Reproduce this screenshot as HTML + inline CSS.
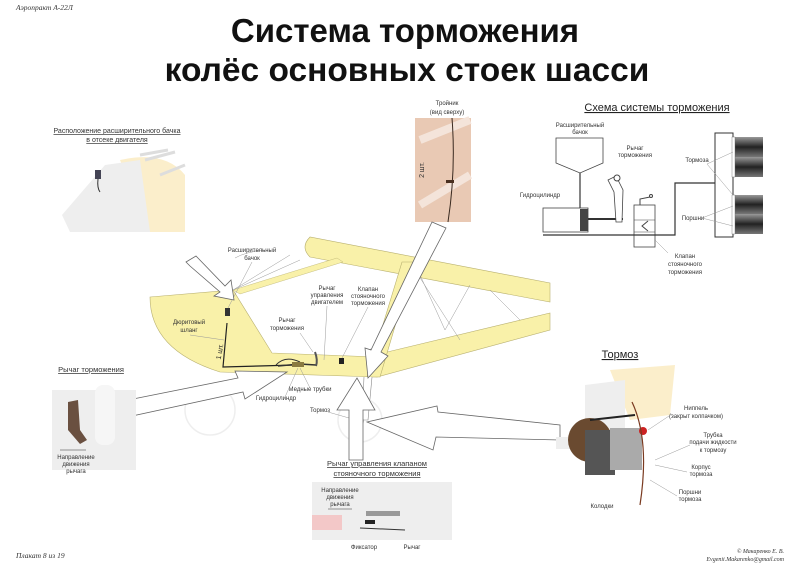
<!DOCTYPE html>
<html><head><meta charset="utf-8"><style>
body{margin:0;background:#fff;}
svg{display:block;font-family:"Liberation Sans",sans-serif;}
.s{font-size:6px;fill:#333;text-anchor:middle;}
.ar{fill:#fff;stroke:#666;stroke-width:0.8;}
.ln{stroke:#999;stroke-width:0.5;fill:none;}
</style></head><body>
<svg width="800" height="565" viewBox="0 0 800 565">
<defs>
<linearGradient id="dg" x1="0" y1="0" x2="0" y2="1"><stop offset="0" stop-color="#999"/><stop offset="0.5" stop-color="#222"/><stop offset="1" stop-color="#777"/></linearGradient>
</defs>
<text x="16" y="10" font-family="Liberation Serif" font-style="italic" font-size="7.5" fill="#333">Аэропракт А-22Л</text>
<text x="405" y="42" font-size="33" font-weight="bold" text-anchor="middle" fill="#111">Система торможения</text>
<text x="407" y="81" font-size="33.5" font-weight="bold" text-anchor="middle" fill="#111">колёс основных стоек шасси</text>

<!-- engine inset -->
<text x="117" y="133" font-size="7" text-anchor="middle" fill="#333" text-decoration="underline">Расположение расширительного бачка</text>
<text x="117" y="142" font-size="7" text-anchor="middle" fill="#333" text-decoration="underline">в отсеке двигателя</text>
<path d="M120 160 Q165 150 185 175 L185 232 L150 232 Z" fill="#fbeecb"/>
<path d="M62 215 L105 165 L140 160 L150 232 L70 232 Z" fill="#eee"/>
<path d="M140 155 L168 150 M145 160 L175 152 M160 175 L185 165" stroke="#ddd" stroke-width="3"/>
<rect x="95" y="170" width="6" height="9" fill="#445"/>
<path d="M98 179 Q97 188 100 192" stroke="#333" fill="none"/>

<!-- tee -->
<text x="447" y="105" class="s" font-size="6.5">Тройник</text>
<text x="447" y="114" class="s" font-size="6.5">(вид сверху)</text>
<rect x="415" y="118" width="56" height="104" fill="#e9c9b4"/>
<path d="M420 140 L470 120 M420 205 L470 175" stroke="#f4e4da" stroke-width="8"/>
<path d="M452 118 Q456 170 448 222" stroke="#3a2a20" fill="none"/>
<rect x="446" y="180" width="8" height="3" fill="#4a3020"/>
<text x="424" y="170" font-size="7" fill="#333" transform="rotate(-90 424 170)" text-anchor="middle">2 шт.</text>

<!-- schema -->
<text x="657" y="111" font-size="11" text-anchor="middle" fill="#222" text-decoration="underline">Схема системы торможения</text>
<text x="580" y="127" class="s">Расширительный</text><text x="580" y="134" class="s">бачок</text>
<path d="M556 138 L603 138 L603 163 L580 173 L556 163 Z" fill="#fff" stroke="#444" stroke-width="0.8"/>
<line x1="580" y1="173" x2="580" y2="208" stroke="#333" stroke-width="1.2"/>
<rect x="543" y="208" width="45" height="24" fill="#fff" stroke="#444" stroke-width="0.8"/>
<rect x="580" y="209" width="8" height="22" fill="#444"/>
<line x1="588" y1="219" x2="623" y2="219" stroke="#333" stroke-width="2"/>
<path d="M608 180 L616 176 L623 190 L622 222 L616 222 L614 192 Z" fill="#fff" stroke="#444" stroke-width="0.8"/>
<circle cx="617" cy="178" r="3" fill="#fff" stroke="#444"/>
<text x="635" y="150" class="s">Рычаг</text><text x="635" y="157" class="s">торможения</text>
<text x="540" y="197" class="s">Гидроцилиндр</text>
<rect x="634" y="205" width="21" height="42" fill="#fff" stroke="#444" stroke-width="0.8"/>
<line x1="634" y1="220" x2="655" y2="220" stroke="#444" stroke-width="0.6"/><line x1="634" y1="232" x2="655" y2="232" stroke="#444" stroke-width="0.6"/>
<path d="M648 221 L642 226 L648 231" stroke="#444" fill="none"/>
<path d="M640 205 L640 199 L650 197" stroke="#444" fill="none"/><circle cx="651" cy="196" r="1.5" fill="#fff" stroke="#444"/>
<path d="M543 235 L675 235 L675 183 L715 183" stroke="#333" stroke-width="1.2" fill="none"/>
<rect x="715" y="133" width="18" height="104" fill="#fff" stroke="#333" stroke-width="1"/>
<rect x="733" y="137" width="30" height="20" fill="url(#dg)"/><rect x="733" y="157" width="30" height="20" fill="url(#dg)"/>
<rect x="733" y="195" width="30" height="19" fill="url(#dg)"/><rect x="733" y="214" width="30" height="20" fill="url(#dg)"/>
<rect x="732" y="137" width="3" height="40" fill="#fff" stroke="#666" stroke-width="0.4"/><rect x="732" y="195" width="3" height="39" fill="#fff" stroke="#666" stroke-width="0.4"/>
<text x="697" y="162" class="s">Тормоза</text>
<path d="M707 164 L733 152 M707 164 L733 195" class="ln"/>
<text x="693" y="220" class="s">Поршни</text>
<path d="M702 218 L733 206 M702 218 L733 226" class="ln"/>
<text x="685" y="258" class="s">Клапан</text><text x="685" y="266" class="s">стояночного</text><text x="685" y="274" class="s">торможения</text>
<path d="M668 253 L655 240" class="ln"/>

<!-- airplane -->
<path d="M235 258 Q245 252 265 250" class="ln"/>
<path d="M150 297 L233 290 L272 353 L377 357 L377 377 L220 372 Q150 350 150 297 Z" fill="#f9f1a9" stroke="#b8b070" stroke-width="0.6"/>
<path d="M383 353 L550 313 L550 330 L377 377 Z" fill="#f9f1a9" stroke="#b8b070" stroke-width="0.6"/>
<path d="M310 237 Q300 247 310 257 L550 302 L550 283 Z" fill="#f9f1a9" stroke="#b8b070" stroke-width="0.6"/>
<path d="M233 290 L337 258 L343 262 L240 294 Z" fill="#f9f1a9" stroke="#b8b070" stroke-width="0.4"/>
<path d="M402 262 L414 262 L380 377 L367 377 Z" fill="#f9f1a9" stroke="#b8b070" stroke-width="0.6"/>
<path d="M420 275 L445 330 M470 285 L445 330 M490 290 L520 320 M415 270 L460 340" class="ln"/>
<path d="M233 290 L290 255 M233 290 L300 260" class="ln"/>
<path d="M364 377 L362 420 L368 420 L372 377" fill="#fff" stroke="#888" stroke-width="0.6"/>
<path d="M227 323 L223 367 L296 365" stroke="#222" stroke-width="1.2" fill="none"/>
<rect x="225" y="308" width="5" height="8" fill="#333"/>
<path d="M278 366 L300 364 L316 365" stroke="#333" stroke-width="1.5" fill="none"/>
<path d="M276 365 Q285 355 300 362" stroke="#333" fill="none"/>
<rect x="292" y="362" width="12" height="5" fill="#8a7a40"/>
<path d="M315 352 Q318 360 316 366" stroke="#555" stroke-width="2" fill="none"/>
<rect x="339" y="358" width="5" height="6" fill="#222"/>
<circle cx="210" cy="410" r="25" fill="none" stroke="#eee" stroke-width="1.5"/>
<circle cx="360" cy="420" r="22" fill="none" stroke="#eee" stroke-width="1.5"/>
<circle cx="359" cy="421" r="4" fill="none" stroke="#222" stroke-width="1.2"/>
<text x="252" y="252" class="s">Расширительный</text><text x="252" y="260" class="s">бачок</text>
<text x="189" y="324" class="s">Дюритовый</text><text x="189" y="332" class="s">шланг</text>
<text x="287" y="322" class="s">Рычаг</text><text x="287" y="330" class="s">торможения</text>
<text x="327" y="290" class="s">Рычаг</text><text x="327" y="297" class="s">управления</text><text x="327" y="304" class="s">двигателем</text>
<text x="368" y="291" class="s">Клапан</text><text x="368" y="298" class="s">стояночного</text><text x="368" y="305" class="s">торможения</text>
<text x="310" y="391" class="s">Медные трубки</text>
<text x="276" y="400" class="s">Гидроцилиндр</text>
<text x="320" y="412" class="s">Тормоз</text>
<text x="222" y="352" font-size="7" fill="#222" transform="rotate(-80 222 352)" text-anchor="middle">1 шт.</text>
<text x="373" y="356" font-size="7" fill="#222" transform="rotate(-80 373 356)" text-anchor="middle">2 шт.</text>
<path d="M252 262 L228 308 M190 335 L224 340 M300 333 L313 352 M327 306 L324 360 M368 307 L342 358 M310 388 L300 368 M285 397 L298 368 M328 412 L356 420" class="ln"/>

<!-- arrows -->
<polygon class="ar" points="186,262 196,256 225,286 231,280 234,300 214,296 220,292 190,266"/>
<polygon class="ar" points="432,222 446,228 381,352 388,356 368,378 365,348 371,350"/>
<polygon class="ar" points="128,400 238,378 235,371 287,372 245,399 243,392 132,416"/>
<polygon class="ar" points="349,460 349,410 337,410 357,378 375,410 363,410 363,460"/>
<polygon class="ar" points="367,422 437,406 438,412 560,425 560,440 436,437 433,450"/>

<!-- brake lever inset -->
<text x="91" y="372" font-size="7.5" text-anchor="middle" fill="#333" text-decoration="underline">Рычаг торможения</text>
<rect x="52" y="390" width="84" height="80" fill="#eee"/>
<rect x="95" y="385" width="20" height="60" rx="8" fill="#f6f6f6"/>
<path d="M68 402 L78 400 L80 430 L87 440 L80 444 L68 430 Z" fill="#6a5040"/>
<line x1="60" y1="450" x2="86" y2="450" stroke="#333" stroke-width="0.6"/>
<text x="76" y="459" class="s" font-size="5">Направление</text><text x="76" y="466" class="s" font-size="5">движения</text><text x="76" y="473" class="s" font-size="5">рычага</text>

<!-- parking inset -->
<text x="377" y="466" font-size="7.5" text-anchor="middle" fill="#333" text-decoration="underline">Рычаг управления клапаном</text>
<text x="377" y="476" font-size="7.5" text-anchor="middle" fill="#333" text-decoration="underline">стояночного торможения</text>
<rect x="312" y="482" width="140" height="58" fill="#eee"/>
<rect x="312" y="515" width="30" height="15" fill="#f3c8c8"/>
<rect x="366" y="511" width="34" height="5" fill="#999"/>
<rect x="365" y="520" width="10" height="4" fill="#222"/>
<path d="M360 528 L405 530" stroke="#333"/>
<text x="340" y="492" class="s" font-size="5">Направление</text><text x="340" y="499" class="s" font-size="5">движения</text><text x="340" y="506" class="s" font-size="5">рычага</text>
<line x1="328" y1="509" x2="352" y2="509" stroke="#333" stroke-width="0.6"/>
<text x="364" y="549" class="s">Фиксатор</text><text x="412" y="549" class="s">Рычаг</text>

<!-- brake inset -->
<text x="620" y="358" font-size="11" text-anchor="middle" fill="#222" text-decoration="underline">Тормоз</text>
<path d="M610 370 L675 365 L670 415 L630 420 Z" fill="#fbeecb"/>
<path d="M585 385 L625 380 L625 440 L585 440 Z" fill="#eee"/>
<rect x="556" y="437" width="60" height="12" fill="#eee"/>
<circle cx="590" cy="440" r="22" fill="#6a4a30"/>
<rect x="585" y="430" width="30" height="45" fill="#555"/>
<rect x="610" y="428" width="32" height="42" fill="#aaa"/>
<circle cx="643" cy="431" r="4" fill="#c22"/>
<path d="M632 402 Q650 440 640 505" stroke="#7a3a20" stroke-width="1.2" fill="none"/>
<path d="M590 420 L635 415" stroke="#222" stroke-width="2"/>
<text x="696" y="410" class="s">Ниппель</text><text x="696" y="418" class="s">(закрыт колпачком)</text>
<text x="713" y="437" class="s">Трубка</text><text x="713" y="444" class="s">подачи жидкости</text><text x="713" y="452" class="s">к тормозу</text>
<text x="701" y="469" class="s">Корпус</text><text x="701" y="476" class="s">тормоза</text>
<text x="690" y="494" class="s">Поршни</text><text x="690" y="501" class="s">тормоза</text>
<text x="602" y="508" class="s">Колодки</text>
<path d="M672 414 L648 430 M690 445 L655 460 M687 472 L655 465 M677 496 L650 480" class="ln"/>

<text x="16" y="558" font-family="Liberation Serif" font-style="italic" font-size="7.5" fill="#333">Плакат 8 из 19</text>
<text x="784" y="553" font-family="Liberation Serif" font-style="italic" font-size="6" fill="#333" text-anchor="end">© Макаренко Е. В.</text>
<text x="784" y="561" font-family="Liberation Serif" font-style="italic" font-size="6" fill="#333" text-anchor="end">Evgenii.Makarenko@gmail.com</text>
</svg>
</body></html>
